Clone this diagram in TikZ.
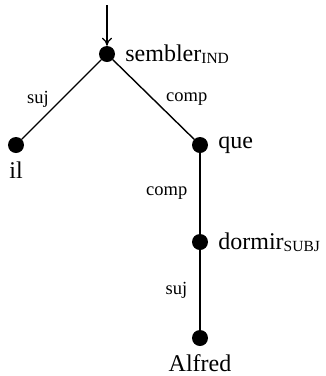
\documentclass[tikz,border=0pt]{standalone}
\usepackage{fontspec}
\setmainfont{Liberation Serif}
\usetikzlibrary{arrows.meta}
\newcommand{\gram}[1]{\raisebox{-2pt}{\fontsize{15.5}{15.5}\selectfont #1}}

\begin{document}
\begin{tikzpicture}
[x=1pt,y=-1pt,
  lineDecorate/.style={-,line width=1.4pt},%
  nodeDecorate/.style={shape=circle,fill,inner sep=0pt,minimum size=16pt},%
  wordDecorate/.style={inner sep=0pt,font=\fontsize{24}{24}\selectfont},%
  relDecorate/.style={inner sep=12pt,font=\fontsize{18.5}{18.5}\selectfont}]
\useasboundingbox (0,0) rectangle (325,376);
%% nodes or vertices
\foreach \nodename/\x/\y in {
  sembler/107/54, il/16/145, que/200/145, dormir/200/242, alfred/200/338}
{
  \node (\nodename) at (\x,\y) [nodeDecorate] {};
}
%% words
\node [wordDecorate,anchor=west,xshift=10pt] at (sembler.east) {sembler\gram{IND}};
\node [wordDecorate,anchor=west,xshift=10pt] at (que.east) {que};
\node [wordDecorate,anchor=west,xshift=10pt] at (dormir.east) {dormir\gram{SUBJ}};
\node [wordDecorate,anchor=north,yshift=-8pt] at (il.south) {il};
\node [wordDecorate,anchor=north,yshift=-8pt] at (alfred.south) {Alfred};
%% entry arrow
\coordinate (entry) at (107,5);
\draw [-{To[length=8pt,width=10pt]},line width=1.2pt] (entry) -- (sembler.north);
%% edges or lines
\path
\foreach \startnode/\endnode/\rel/\side in {
  sembler/il/suj/left, sembler/que/comp/right,
  que/dormir/comp/left, dormir/alfred/suj/left}
{
  (\startnode) edge[lineDecorate] node[relDecorate,\side] {\rel} (\endnode)
};
\end{tikzpicture}
\end{document}
